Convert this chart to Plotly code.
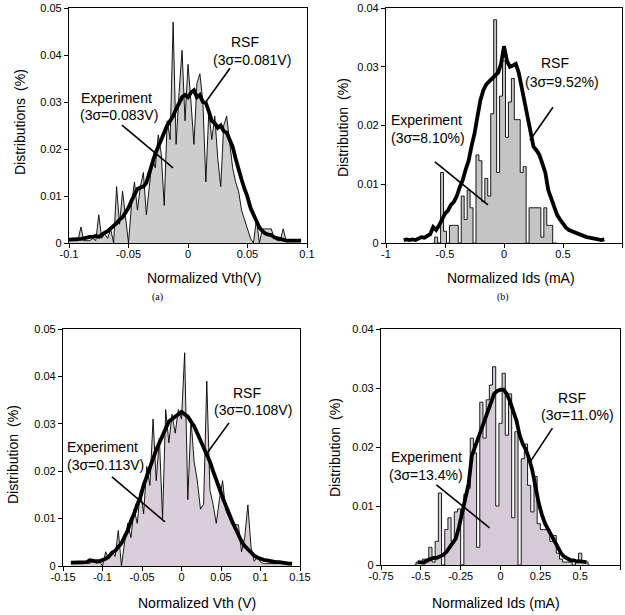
import plotly.graph_objects as go

# ---------------- Panel (a): Normalized Vth (V) ----------------
a_x = [-0.1, -0.0975, -0.095, -0.0925, -0.09, -0.0875, -0.085, -0.0825, -0.08, -0.0775,
       -0.075, -0.0725, -0.07, -0.0675, -0.065, -0.0625, -0.06, -0.0575, -0.055, -0.0525,
       -0.05, -0.0475, -0.045, -0.0425, -0.04, -0.0375, -0.035, -0.0325, -0.03, -0.0275,
       -0.025, -0.0225, -0.02, -0.0175, -0.015, -0.0125, -0.01, -0.0075, -0.005, -0.0025,
       0.0, 0.0025, 0.005, 0.0075, 0.01, 0.0125, 0.015, 0.0175, 0.02, 0.0225,
       0.025, 0.0275, 0.03, 0.0325, 0.035, 0.0375, 0.04, 0.0425, 0.045, 0.0475,
       0.05, 0.0525, 0.055, 0.0575, 0.06, 0.0625, 0.065, 0.0675, 0.07, 0.0725,
       0.075, 0.0775, 0.08, 0.0825, 0.085, 0.0875, 0.09, 0.0925, 0.095]
a_exp = [0.0005, 0.0005, 0.0005, 0.0005, 0.0034, 0.0005, 0.0005, 0.0005, 0.001, 0.0005,
         0.006, 0.001, 0.002, 0.001, 0.003, 0.0, 0.012, 0.004, 0.011, 0.005,
         0.0, 0.008, 0.013, 0.007, 0.012, 0.015, 0.006, 0.012, 0.018, 0.016,
         0.023, 0.019, 0.008, 0.026, 0.022, 0.047, 0.021, 0.032, 0.041, 0.026,
         0.038, 0.030, 0.021, 0.034, 0.036, 0.030, 0.013, 0.028, 0.022, 0.027,
         0.018, 0.012, 0.025, 0.027, 0.022, 0.016, 0.013, 0.011, 0.007, 0.005,
         0.003, 0.001, 0.0, 0.005, 0.0, 0.003, 0.003, 0.003, 0.003, 0.001,
         0.0005, 0.0005, 0.003, 0.0005, 0.0005, 0.0005, 0.0005, 0.0005, 0.0005]
a_rsf = [0.0007, 0.0007, 0.0008, 0.0008, 0.0009, 0.001, 0.0012, 0.0013, 0.0013, 0.0015,
         0.0013, 0.0018, 0.0022, 0.0025, 0.003, 0.0035, 0.0042, 0.005, 0.0055, 0.0065,
         0.0075, 0.009, 0.0105, 0.0115, 0.0118, 0.012, 0.0128, 0.015, 0.0175, 0.019,
         0.0205, 0.022, 0.0238, 0.025, 0.026, 0.027, 0.0285, 0.030, 0.031, 0.0315,
         0.031, 0.032, 0.0325, 0.031, 0.0315, 0.030, 0.0298, 0.028, 0.026, 0.0255,
         0.0245, 0.025, 0.0238, 0.0235, 0.022, 0.0205, 0.018, 0.0155, 0.0135, 0.0115,
         0.0098, 0.0075, 0.006, 0.0045, 0.0033, 0.0025, 0.002, 0.0018, 0.0017, 0.0012,
         0.001, 0.0008, 0.0006, 0.0005, 0.0005, 0.0005, 0.0005, 0.0005, 0.0005]
a_xticks = [-0.1, -0.05, 0, 0.05, 0.1]
a_xtext = ["-0.1", "-0.05", "0", "0.05", "0.1"]

# ---------------- Panel (b): Normalized Ids (mA) ----------------
b_exp_x = [-0.6, -0.575, -0.55, -0.525, -0.5, -0.475, -0.45, -0.425, -0.4, -0.375,
           -0.35, -0.325, -0.3, -0.275, -0.25, -0.225, -0.2, -0.175, -0.15, -0.125,
           -0.1, -0.075, -0.05, -0.025, 0.0, 0.025, 0.05, 0.075, 0.1, 0.125,
           0.15, 0.175, 0.2, 0.225, 0.25, 0.275, 0.3, 0.325, 0.35, 0.375,
           0.4, 0.425, 0.45]
b_exp = [0.0, 0.001, 0.0, 0.012, 0.002, 0.0, 0.003, 0.003, 0.003, 0.0,
         0.008, 0.004, 0.009, 0.006, 0.0, 0.015, 0.014, 0.007, 0.011, 0.008,
         0.022, 0.038, 0.012, 0.025, 0.031, 0.018, 0.024, 0.028, 0.021, 0.021,
         0.012, 0.013, 0.0, 0.006, 0.006, 0.006, 0.006, 0.001, 0.006, 0.003,
         0.003, 0.0, 0.0]
b_rsf_x = [-0.85, -0.825, -0.8, -0.775, -0.75, -0.725, -0.7, -0.675, -0.65, -0.625,
           -0.6, -0.575, -0.55, -0.525, -0.5, -0.475, -0.45, -0.425, -0.4, -0.375,
           -0.35, -0.325, -0.3, -0.275, -0.25, -0.225, -0.2, -0.175, -0.15, -0.125,
           -0.1, -0.075, -0.05, -0.025, 0.0, 0.025, 0.05, 0.075, 0.1, 0.125,
           0.15, 0.175, 0.2, 0.225, 0.25, 0.275, 0.3, 0.325, 0.35, 0.375,
           0.4, 0.425, 0.45, 0.475, 0.5, 0.525, 0.55, 0.575, 0.6, 0.625,
           0.65, 0.675, 0.7, 0.725, 0.75, 0.775, 0.8, 0.825, 0.85]
b_rsf = [0.0005, 0.0006, 0.0005, 0.0006, 0.0005, 0.0008, 0.001, 0.0009, 0.0012, 0.0015,
         0.0027, 0.0022, 0.003, 0.004, 0.005, 0.0055, 0.0065, 0.007, 0.008, 0.0095,
         0.0107, 0.0125, 0.014, 0.0165, 0.0186, 0.0215, 0.0243, 0.026, 0.027, 0.0275,
         0.028, 0.0285, 0.029, 0.0305, 0.0335, 0.031, 0.030, 0.0302, 0.0305, 0.029,
         0.0265, 0.0243, 0.021, 0.0186, 0.0164, 0.0158, 0.015, 0.0135, 0.012, 0.009,
         0.0075, 0.006, 0.0048, 0.004, 0.0032, 0.0026, 0.0022, 0.002, 0.0017, 0.0016,
         0.0013, 0.0012, 0.001, 0.0009, 0.0008, 0.0006, 0.0005, 0.0005, 0.0006]
b_xticks = [-1, -0.5, 0, 0.5, 1]
b_xtext = ["-1", "-0.5", "0", "0.5", "1"]

# ---------------- Panel (c): Normalized Vth (V) ----------------
c_x = [-0.14, -0.136, -0.132, -0.128, -0.124, -0.12, -0.116, -0.112, -0.108, -0.104,
       -0.1, -0.096, -0.092, -0.088, -0.084, -0.08, -0.076, -0.072, -0.068, -0.064,
       -0.06, -0.056, -0.052, -0.048, -0.044, -0.04, -0.036, -0.032, -0.028, -0.024,
       -0.02, -0.016, -0.012, -0.008, -0.004, 0.0, 0.004, 0.008, 0.012, 0.016,
       0.02, 0.024, 0.028, 0.032, 0.036, 0.04, 0.044, 0.048, 0.052, 0.056,
       0.06, 0.064, 0.068, 0.072, 0.076, 0.08, 0.084, 0.088, 0.092, 0.096,
       0.1, 0.104, 0.108, 0.112, 0.116, 0.12, 0.124, 0.128, 0.132, 0.136,
       0.14]
c_exp = [0.0005, 0.0005, 0.0005, 0.0005, 0.0005, 0.0008, 0.0005, 0.0015, 0.0005, 0.001,
         0.0, 0.003, 0.0015, 0.003, 0.002, 0.0075, 0.0, 0.005, 0.009, 0.006,
         0.012, 0.009, 0.016, 0.011, 0.021, 0.017, 0.031, 0.018, 0.027, 0.010,
         0.033, 0.026, 0.032, 0.028, 0.033, 0.031, 0.045, 0.014, 0.031, 0.022,
         0.018, 0.012, 0.013, 0.039, 0.016, 0.013, 0.009, 0.014, 0.018, 0.0118,
         0.0104, 0.0087, 0.0087, 0.0087, 0.003, 0.006, 0.0129, 0.004, 0.001, 0.002,
         0.0008, 0.0005, 0.0005, 0.0005, 0.0005, 0.0005, 0.0005, 0.0005, 0.0005, 0.0005,
         0.0005]
c_rsf = [0.0007, 0.0007, 0.0007, 0.0007, 0.0008, 0.0008, 0.0012, 0.001, 0.001, 0.001,
         0.0012, 0.0015, 0.002, 0.0028, 0.0032, 0.004, 0.0048, 0.0062, 0.0075, 0.0095,
         0.011, 0.013, 0.0145, 0.017, 0.019, 0.021, 0.023, 0.0245, 0.026, 0.0275,
         0.029, 0.0305, 0.031, 0.0315, 0.032, 0.0325, 0.032, 0.0315, 0.0305, 0.0295,
         0.028, 0.0265, 0.025, 0.0235, 0.022, 0.020, 0.018, 0.016, 0.0145, 0.0128,
         0.011, 0.0095, 0.008, 0.0065, 0.0052, 0.0042, 0.0035, 0.0028, 0.0022, 0.0018,
         0.0015, 0.0013, 0.0012, 0.001, 0.0009, 0.0008, 0.0008, 0.0006, 0.0006, 0.0005,
         0.0005]
c_xticks = [-0.15, -0.1, -0.05, 0, 0.05, 0.1, 0.15]
c_xtext = ["-0.15", "-0.1", "-0.05", "0", "0.05", "0.1", "0.15"]

# ---------------- Panel (d): Normalized Ids (mA) ----------------
d_x = [-0.54, -0.52, -0.5, -0.48, -0.46, -0.44, -0.42, -0.4, -0.38, -0.36,
       -0.34, -0.32, -0.3, -0.28, -0.26, -0.24, -0.22, -0.2, -0.18, -0.16,
       -0.14, -0.12, -0.1, -0.08, -0.06, -0.04, -0.02, 0.0, 0.02, 0.04,
       0.06, 0.08, 0.1, 0.12, 0.14, 0.16, 0.18, 0.2, 0.22, 0.24,
       0.26, 0.28, 0.3, 0.32, 0.34, 0.36, 0.38, 0.4, 0.42, 0.44,
       0.46, 0.48, 0.5, 0.52, 0.54, 0.56]
d_exp = [0.0, 0.0005, 0.0005, 0.001, 0.0005, 0.003, 0.0005, 0.004, 0.0122, 0.0,
         0.006, 0.008, 0.004, 0.009, 0.0095, 0.0, 0.012, 0.013, 0.0215, 0.019,
         0.003, 0.0276, 0.0215, 0.028, 0.0305, 0.0336, 0.010, 0.024, 0.0325, 0.022,
         0.029, 0.008, 0.0226, 0.0, 0.018, 0.0205, 0.0135, 0.009, 0.015, 0.007,
         0.006, 0.006, 0.006, 0.004, 0.005, 0.002, 0.001, 0.0005, 0.0005, 0.0005,
         0.0, 0.0005, 0.002, 0.0005, 0.0005, 0.0]
d_rsf = [None, 0.0005, 0.0005, 0.0004, 0.0008, 0.001, 0.0012, 0.0012, 0.0015, 0.0017,
         0.0022, 0.003, 0.0037, 0.0045, 0.0065, 0.009, 0.0115, 0.0138, 0.0185, 0.020,
         0.0215, 0.023, 0.0243, 0.026, 0.0277, 0.029, 0.0295, 0.0297, 0.0297, 0.029,
         0.0277, 0.026, 0.0245, 0.022, 0.0205, 0.0195, 0.018, 0.016, 0.0128, 0.0105,
         0.0085, 0.007, 0.006, 0.005, 0.004, 0.0028, 0.002, 0.0014, 0.001, 0.0008,
         0.0008, 0.0006, 0.0006, 0.0005, 0.0005, None]
d_xticks = [-0.75, -0.5, -0.25, 0, 0.25, 0.5, 0.75]
d_xtext = ["-0.75", "-0.5", "-0.25", "0", "0.25", "0.5", "0.75"]

y5_ticks = [0, 0.01, 0.02, 0.03, 0.04, 0.05]
y5_text = ["0", "0.01", "0.02", "0.03", "0.04", "0.05"]
y4_ticks = [0, 0.01, 0.02, 0.03, 0.04]
y4_text = ["0", "0.01", "0.02", "0.03", "0.04"]

FONT = "Liberation Sans, Arial, Helvetica, sans-serif"
SERIF = "Liberation Serif, Times New Roman, serif"

panels = [
    dict(ax="", exp_x=a_x, exp_y=a_exp, rsf_x=a_x, rsf_y=a_rsf, shape="linear",
         fill="#cdcdcd", xr=[-0.1, 0.1], xt=a_xticks, xl=a_xtext, yr=[0, 0.05],
         yt=y5_ticks, yl=y5_text, dom_x=[69, 307], dom_y=[8, 243],
         labels=[("RSF", 0.0479, 0.0428), ("(3σ=0.081V)", 0.0538, 0.0389),
                 ("Experiment", -0.0597, 0.0309), ("(3σ=0.083V)", -0.058, 0.0272)],
         lines=[(0.0353, 0.0372, 0.0143, 0.0298), (-0.0555, 0.0251, -0.0126, 0.016)]),
    dict(ax="2", exp_x=b_exp_x, exp_y=b_exp, rsf_x=b_rsf_x, rsf_y=b_rsf, shape="hvh",
         fill="#c4c4c4", xr=[-1, 1], xt=b_xticks, xl=b_xtext, yr=[0, 0.04],
         yt=y4_ticks, yl=y4_text, dom_x=[386, 622], dom_y=[8, 243],
         labels=[("RSF", 0.432, 0.0306), ("(3σ=9.52%)", 0.492, 0.0274),
                 ("Experiment", -0.653, 0.0209), ("(3σ=8.10%)", -0.644, 0.0179)],
         lines=[(0.415, 0.0231, 0.22, 0.0175), (-0.585, 0.0138, -0.136, 0.0065)]),
    dict(ax="3", exp_x=c_x, exp_y=c_exp, rsf_x=c_x, rsf_y=c_rsf, shape="linear",
         fill="#d8cfd8", xr=[-0.15, 0.15], xt=c_xticks, xl=c_xtext, yr=[0, 0.05],
         yt=y5_ticks, yl=y5_text, dom_x=[63, 300], dom_y=[329, 566],
         labels=[("RSF", 0.0829, 0.0365), ("(3σ=0.108V)", 0.0905, 0.0329),
                 ("Experiment", -0.0994, 0.0251), ("(3σ=0.113V)", -0.0968, 0.0213)],
         lines=[(0.0601, 0.0302, 0.0323, 0.0238), (-0.088, 0.0188, -0.0209, 0.0093)]),
    dict(ax="4", exp_x=d_x, exp_y=d_exp, rsf_x=d_x, rsf_y=d_rsf, shape="hvh",
         fill="#d3ccd4", xr=[-0.75, 0.75], xt=d_xticks, xl=d_xtext, yr=[0, 0.04],
         yt=y4_ticks, yl=y4_text, dom_x=[381, 620], dom_y=[329, 565],
         labels=[("RSF", 0.446, 0.0283), ("(3σ=11.0%)", 0.483, 0.0254),
                 ("Experiment", -0.465, 0.0183), ("(3σ=13.4%)", -0.465, 0.0153)],
         lines=[(0.326, 0.0232, 0.182, 0.0173), (-0.402, 0.0136, -0.069, 0.0063)]),
]

W, H = 625, 615
fig = go.Figure()
annotations = []
shapes = []
layout_axes = {}

for p in panels:
    xa = "x" + p["ax"]
    ya = "y" + p["ax"]
    fig.add_trace(go.Scatter(x=p["exp_x"], y=p["exp_y"], mode="lines",
                             line=dict(color="black", width=0.9, shape=p["shape"]),
                             fill="tozeroy", fillcolor=p["fill"],
                             xaxis=xa, yaxis=ya, showlegend=False, name="Experiment"))
    fig.add_trace(go.Scatter(x=p["rsf_x"], y=p["rsf_y"], mode="lines",
                             line=dict(color="black", width=3.8),
                             xaxis=xa, yaxis=ya, showlegend=False, name="RSF"))
    common = dict(showline=True, linecolor="black", linewidth=1.2, mirror=True,
                  ticks="outside", ticklen=4, tickwidth=1, tickcolor="black",
                  showgrid=False, zeroline=False, automargin=False,
                  tickfont=dict(family=FONT, size=11, color="black"))
    layout_axes["xaxis" + p["ax"]] = dict(
        domain=[p["dom_x"][0] / W, p["dom_x"][1] / W], range=p["xr"],
        tickmode="array", tickvals=p["xt"], ticktext=p["xl"],
        ticklabelstandoff=-3, anchor=ya, **common)
    layout_axes["yaxis" + p["ax"]] = dict(
        domain=[1 - p["dom_y"][1] / H, 1 - p["dom_y"][0] / H], range=p["yr"],
        tickmode="array", tickvals=p["yt"], ticktext=p["yl"],
        anchor=xa, **common)
    for txt, lx, ly in p["labels"]:
        annotations.append(dict(text=txt, x=lx, y=ly, xref=xa, yref=ya,
                                showarrow=False, xanchor="center", yanchor="middle",
                                font=dict(family=FONT, size=14, color="black")))
    for x0, y0, x1, y1 in p["lines"]:
        shapes.append(dict(type="line", xref=xa, yref=ya, x0=x0, y0=y0, x1=x1, y1=y1,
                           line=dict(color="black", width=1.6)))

# axis titles and captions (paper coordinates, pixel positions of their centres)
titles = [
    ("Distributions\u2002(%)", 20, 122, -90, 14, FONT),
    ("Normalized Vth(V)", 204, 278, 0, 14, FONT),
    ("(a)", 157, 297, 0, 10, SERIF),
    ("Distribution\u2002(%)", 343, 128, -90, 14, FONT),
    ("Normalized Ids (mA)", 511, 278, 0, 14, FONT),
    ("(b)", 503, 297, 0, 10, SERIF),
    ("Distribution\u2002(%)", 13, 455, -90, 14, FONT),
    ("Normalized Vth (V)", 197, 603, 0, 14, FONT),
    ("Distribution\u2002(%)", 335, 448, -90, 14, FONT),
    ("Normalized Ids (mA)", 496, 603, 0, 14, FONT),
]
for txt, px, py, ang, sz, fam in titles:
    annotations.append(dict(text=txt, x=px / W, y=1 - py / H, xref="paper", yref="paper",
                            showarrow=False, xanchor="center", yanchor="middle",
                            textangle=ang, font=dict(family=fam, size=sz, color="black")))

fig.update_layout(width=W, height=H, margin=dict(l=0, r=0, t=0, b=0),
                  paper_bgcolor="white", plot_bgcolor="white",
                  annotations=annotations, shapes=shapes, **layout_axes)

fig.write_html("out.html")
